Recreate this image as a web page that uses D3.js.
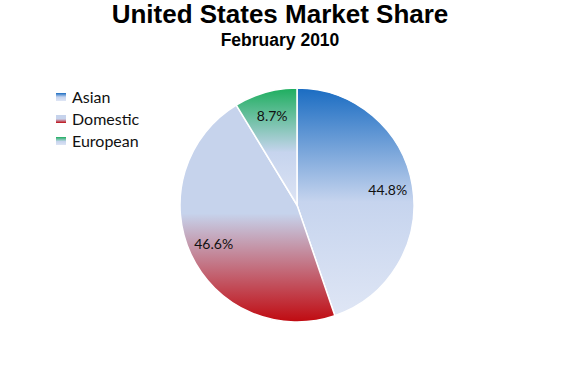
<!DOCTYPE html>
<html>
<head>
<meta charset="utf-8">
<script src="https://cdn.jsdelivr.net/npm/d3@7"></script>
<style>
  body { margin: 0; background: #fff; }
  .title { font-family: Arial, "Liberation Sans", sans-serif; font-weight: bold; fill: #000; }
  .lbl { font-family: Lato, "Open Sans", sans-serif; fill: #111; }
</style>
</head>
<body>
<div class="chart"></div>
<script>
var categories = ["Asian", "Domestic", "European"];
var shares = [44.8, 46.6, 8.7];
var labels = ["44.8%", "46.6%", "8.7%"];

var width = 570, height = 366;
var cx = 297, cy = 205, radius = 117;

// each slice fades from its colour towards the pale lavender
var grads = [
  { id: "gAsian", stops: [[0, "#1a6cc2"], [0.5, "#c6d4ee"], [1, "#dfe6f5"]] },
  { id: "gDomestic", stops: [[0, "#c6d3ec"], [0.5, "#c6d3ec"], [1, "#c00a10"]] },
  { id: "gEuropean", stops: [[0, "#1dae5e"], [0.55, "#c6d4ee"], [1, "#dde4f4"]] }
];

var svg = d3.select(".chart").append("svg")
            .attr("width", width)
            .attr("height", height);

var defs = svg.append("defs");
grads.forEach(function(g) {
  var lg = defs.append("linearGradient")
               .attr("id", g.id)
               .attr("x1", 0).attr("y1", 0)
               .attr("x2", 0).attr("y2", 1);
  g.stops.forEach(function(s) {
    lg.append("stop").attr("offset", s[0]).attr("stop-color", s[1]);
  });
});

svg.append("text")
   .attr("class", "title")
   .attr("x", 280)
   .attr("y", 23)
   .attr("text-anchor", "middle")
   .style("font-size", "26px")
   .text("United States Market Share");

svg.append("text")
   .attr("class", "title")
   .attr("x", 280)
   .attr("y", 46)
   .attr("text-anchor", "middle")
   .style("font-size", "17.5px")
   .text("February 2010");

var pie = d3.pie().sort(null).value(function(d) { return d; });
var arcs = pie(shares);

var arc = d3.arc().innerRadius(0).outerRadius(radius);
var labelArc = d3.arc().innerRadius(92).outerRadius(92);

var g = svg.append("g")
           .attr("transform", "translate(" + cx + "," + cy + ")");

g.selectAll("path.slice")
 .data(arcs)
 .enter().append("path")
 .attr("class", "slice")
 .attr("d", arc)
 .attr("fill", function(d, i) { return "url(#" + grads[i].id + ")"; })
 .attr("stroke", "#fff")
 .attr("stroke-width", 1.5);

g.selectAll("text.lbl")
 .data(arcs)
 .enter().append("text")
 .attr("class", "lbl")
 .attr("transform", function(d) { return "translate(" + labelArc.centroid(d) + ")"; })
 .attr("text-anchor", "middle")
 .attr("dy", "0.35em")
 .style("font-size", "14px")
 .text(function(d, i) { return labels[i]; });

var legend = svg.append("g")
                .attr("transform", "translate(56,97)");

var item = legend.selectAll("g.item")
                 .data(categories)
                 .enter().append("g")
                 .attr("class", "item")
                 .attr("transform", function(d, i) { return "translate(0," + (i * 22) + ")"; });

item.append("rect")
    .attr("x", 0)
    .attr("y", -4)
    .attr("width", 10)
    .attr("height", 8)
    .attr("fill", function(d, i) { return "url(#" + grads[i].id + ")"; });

item.append("text")
    .attr("class", "lbl")
    .attr("x", 16)
    .attr("dy", "0.35em")
    .style("font-size", "16px")
    .text(function(d) { return d; });
</script>
</body>
</html>
